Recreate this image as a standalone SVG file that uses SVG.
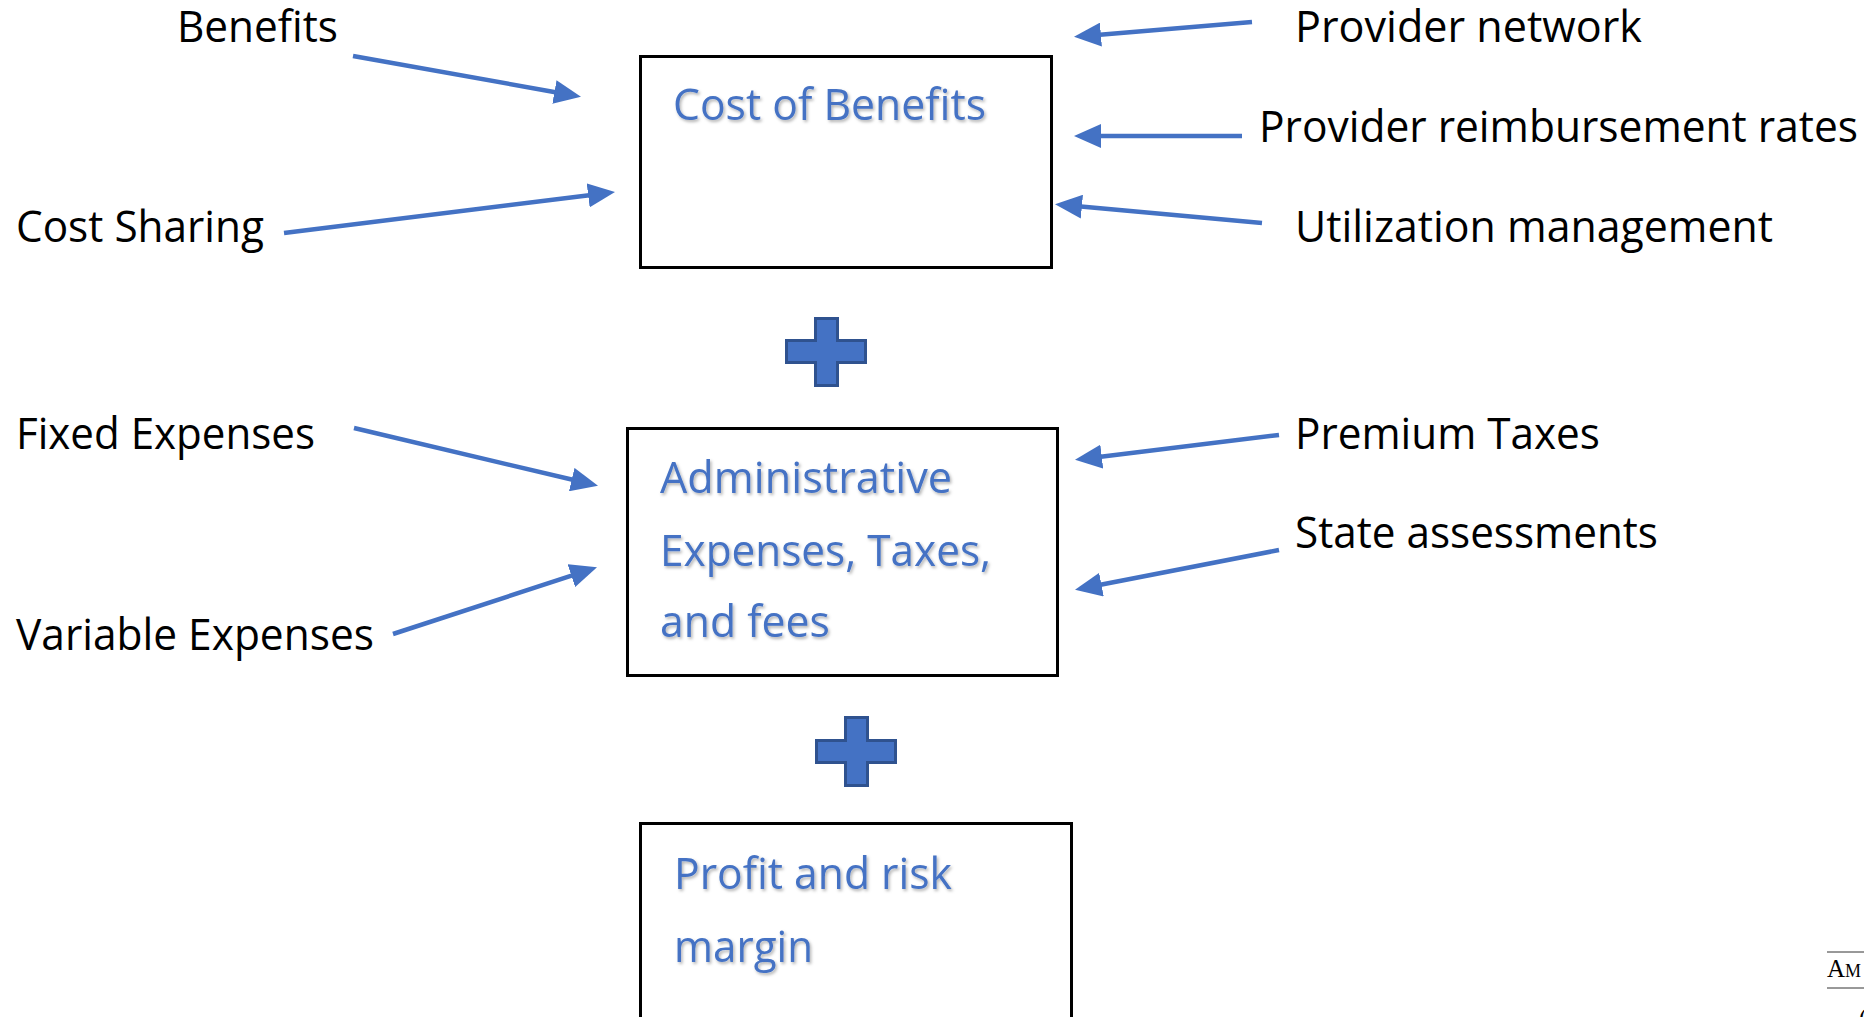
<svg xmlns="http://www.w3.org/2000/svg" width="1864" height="1017" viewBox="0 0 1864 1017">
  <style>
    .label { font-family: "Open Sans", "Noto Sans", "Liberation Sans", sans-serif; font-size: 43px; fill: #000; }
    .title { font-family: "Open Sans", "Noto Sans", "Liberation Sans", sans-serif; font-size: 43px; fill: #4472C4; filter: url(#soft); }
    .box { fill: #fff; stroke: #000; stroke-width: 3; }
    .plus { fill: #4472C4; stroke: #2F528F; stroke-width: 3; stroke-linejoin: miter; }
    .conn { fill: none; stroke: #4472C4; stroke-width: 4.5; marker-end: url(#head); }
    .rule { stroke: #333; stroke-width: 1; }
    .foot { font-family: "Liberation Serif", "Times New Roman", serif; fill: #000; }
  </style>
  <defs>
    <marker id="head" markerUnits="userSpaceOnUse" viewBox="0 0 27 24" markerWidth="27" markerHeight="24" refX="1" refY="12" orient="auto">
      <path d="M0,0 L27,12 L0,24 Z" fill="#4472C4"/>
    </marker>
    <filter id="soft" x="-5%" y="-20%" width="110%" height="150%">
      <feDropShadow dx="1.5" dy="2" stdDeviation="1.5" flood-color="#000" flood-opacity="0.3"/>
    </filter>
  </defs>

  <rect width="1864" height="1017" fill="#fff"/>

  <!-- main blocks -->
  <g id="cost-of-benefits">
    <rect class="box" x="640.5" y="56.5" width="411" height="211"/>
    <text class="title" x="673" y="120" textLength="313" lengthAdjust="spacingAndGlyphs">Cost of Benefits</text>
  </g>

  <g id="plus-1">
    <path class="plus" d="M815.5,318.5 H837.5 V340.5 H865.5 V362.5 H837.5 V385.5 H815.5 V362.5 H786.5 V340.5 H815.5 Z"/>
  </g>

  <g id="admin-expenses">
    <rect class="box" x="627.5" y="428.5" width="430" height="247"/>
    <text class="title" x="660" y="493" textLength="292" lengthAdjust="spacingAndGlyphs">Administrative</text>
    <text class="title" x="660" y="566" textLength="331" lengthAdjust="spacingAndGlyphs">Expenses, Taxes,</text>
    <text class="title" x="660" y="637" textLength="170" lengthAdjust="spacingAndGlyphs">and fees</text>
  </g>

  <g id="plus-2">
    <path class="plus" d="M845.5,717.5 H867.5 V740.5 H895.5 V762.5 H867.5 V785.5 H845.5 V762.5 H816.5 V740.5 H845.5 Z"/>
  </g>

  <g id="profit-margin">
    <rect class="box" x="640.5" y="823.5" width="431" height="300"/>
    <text class="title" x="674" y="889" textLength="278" lengthAdjust="spacingAndGlyphs">Profit and risk</text>
    <text class="title" x="674" y="962" textLength="139" lengthAdjust="spacingAndGlyphs">margin</text>
  </g>

  <!-- driver labels -->
  <g id="benefits"><text class="label" x="177" y="42" textLength="161" lengthAdjust="spacingAndGlyphs">Benefits</text></g>
  <g id="cost-sharing"><text class="label" x="16" y="242" textLength="248" lengthAdjust="spacingAndGlyphs">Cost Sharing</text></g>
  <g id="provider-network"><text class="label" x="1295" y="42" textLength="347" lengthAdjust="spacingAndGlyphs">Provider network</text></g>
  <g id="provider-rates"><text class="label" x="1259" y="142" textLength="599" lengthAdjust="spacingAndGlyphs">Provider reimbursement rates</text></g>
  <g id="utilization"><text class="label" x="1295" y="242" textLength="478" lengthAdjust="spacingAndGlyphs">Utilization management</text></g>
  <g id="fixed-expenses"><text class="label" x="16" y="449" textLength="299" lengthAdjust="spacingAndGlyphs">Fixed Expenses</text></g>
  <g id="variable-expenses"><text class="label" x="16" y="650" textLength="358" lengthAdjust="spacingAndGlyphs">Variable Expenses</text></g>
  <g id="premium-taxes"><text class="label" x="1295" y="449" textLength="305" lengthAdjust="spacingAndGlyphs">Premium Taxes</text></g>
  <g id="state-assessments"><text class="label" x="1295" y="548" textLength="363" lengthAdjust="spacingAndGlyphs">State assessments</text></g>

  <!-- connectors: each path ends at the arrowhead base -->
  <g id="connectors">
    <path class="conn" d="M353,56 L555.4,92.2"/>
    <path class="conn" d="M284,233 L589.2,195.3"/>
    <path class="conn" d="M1252,22 L1099.9,34.7"/>
    <path class="conn" d="M1242,136 L1100,136"/>
    <path class="conn" d="M1262,223 L1080.9,206.5"/>
    <path class="conn" d="M354,428 L572.7,479.8"/>
    <path class="conn" d="M393,634 L572.3,575.4"/>
    <path class="conn" d="M1279,435 L1100.8,456.7"/>
    <path class="conn" d="M1279,550 L1100.5,584.8"/>
  </g>

  <!-- running header fragment at the lower right edge -->
  <g id="corner-note">
    <line class="rule" x1="1827" y1="952" x2="1864" y2="952"/>
    <text class="foot" x="1827" y="977"><tspan font-size="25">A</tspan><tspan font-size="18">M</tspan></text>
    <line class="rule" x1="1827" y1="988" x2="1864" y2="988"/>
    <text class="foot" x="1859" y="1026" font-size="25">(</text>
  </g>
</svg>
